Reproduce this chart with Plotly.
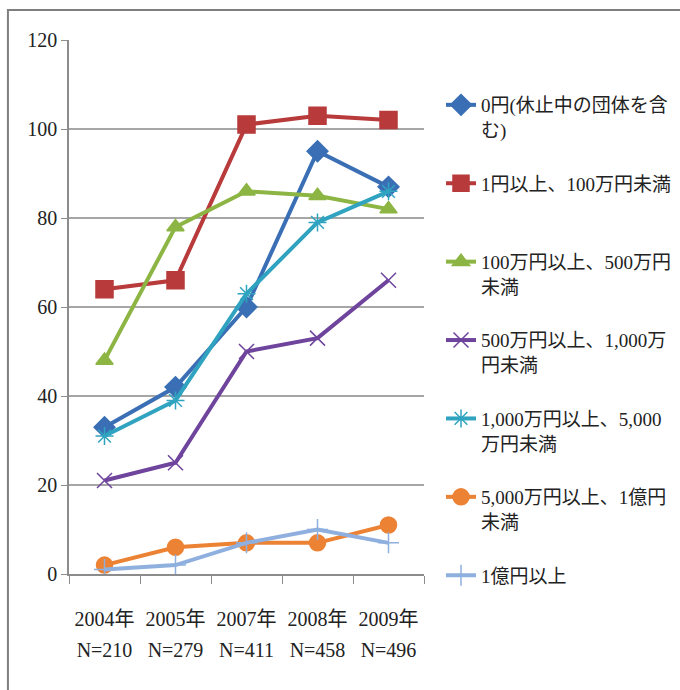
import plotly.graph_objects as go

years = ["2004年", "2005年", "2007年", "2008年", "2009年"]
n_labels = ["N=210", "N=279", "N=411", "N=458", "N=496"]
series_names = [
    "0円(休止中の団体を含<br>む)",
    "1円以上、100万円未満<br> ",
    "100万円以上、500万円<br>未満",
    "500万円以上、1,000万<br>円未満",
    "1,000万円以上、5,000<br>万円未満",
    "5,000万円以上、1億円<br>未満",
    "1億円以上",
]
v_0yen = [33, 42, 60, 95, 87]
v_1yen = [64, 66, 101, 103, 102]
v_100man = [48, 78, 86, 85, 82]
v_500man = [21, 25, 50, 53, 66]
v_1000man = [31, 39, 63, 79, 86]
v_5000man = [2, 6, 7, 7, 11]
v_1oku = [1, 2, 7, 10, 7]
y_ticks = [0, 20, 40, 60, 80, 100, 120]

values = [v_0yen, v_1yen, v_100man, v_500man, v_1000man, v_5000man, v_1oku]
colors = ["#3a6fb5", "#b83a3a", "#8cb544", "#6e449c", "#2fa3bf", "#ec8233", "#8fb0de"]
symbols = ["diamond", "square", "triangle-up", "x-thin-open", "asterisk-open", "circle", "cross-thin-open"]
sizes = [16, 17, 15, 15, 15, 16, 15]

fig = go.Figure()
for i, (name, vals) in enumerate(zip(series_names, values)):
    fig.add_trace(go.Scatter(
        x=years, y=vals, name=name, mode="lines+markers",
        line=dict(color=colors[i], width=4),
        marker=dict(symbol=symbols[i], size=sizes[i], color=colors[i],
                    line=dict(color=colors[i], width=1.5)),
        legendgroup=f"g{i}",
    ))

# carrier for the second row of category labels (N values)
fig.add_trace(go.Scatter(x=years, y=[None] * len(years), xaxis="x2", yaxis="y",
                         mode="lines", showlegend=False, hoverinfo="skip"))

font_family = "Liberation Serif, Noto Sans CJK JP, serif"
fig.update_layout(
    width=680, height=690,
    margin=dict(l=69, r=256, t=40, b=116, autoexpand=False),
    paper_bgcolor="white", plot_bgcolor="white",
    font=dict(family=font_family, size=20, color="#222222"),
    showlegend=True,
    legend=dict(xref="container", yref="container", x=441 / 680, y=1 - 86 / 690,
                xanchor="left", yanchor="top", maxheight=640,
                font=dict(family=font_family, size=19, color="#222222"),
                tracegroupgap=26, valign="top", itemwidth=30,
                bgcolor="rgba(0,0,0,0)"),
    xaxis=dict(type="category", showgrid=False, showline=True, linecolor="#8c8c8c", linewidth=1.5,
               ticks="outside", tickson="boundaries", ticklen=8, tickcolor="#8c8c8c",
               tickfont=dict(family=font_family, size=20), range=[-0.5, 4.5],
               ticklabelstandoff=26),
    xaxis2=dict(type="category", overlaying="x", anchor="y", side="bottom", range=[-0.5, 4.5],
                tickvals=years, ticktext=n_labels,
                showgrid=False, showline=False, zeroline=False, ticks="",
                tickfont=dict(family=font_family, size=20), ticklabelstandoff=62),
    yaxis=dict(range=[0, 120], tickvals=y_ticks, showgrid=True, gridcolor="#a6a6a6", gridwidth=1.5,
               showline=True, linecolor="#8c8c8c", linewidth=1.5, zeroline=False,
               ticks="outside", ticklen=6, tickcolor="#8c8c8c",
               tickfont=dict(family=font_family, size=20)),
    shapes=[dict(type="rect", xref="paper", yref="paper",
                 x0=-0.172, x1=1.95, y0=-0.35, y1=1.056,
                 line=dict(color="#7f7f7f", width=2), fillcolor="rgba(0,0,0,0)", layer="below")],
)

fig.write_html("out.html", config={"displayModeBar": False},
               post_script="document.body.style.margin='0px';")
